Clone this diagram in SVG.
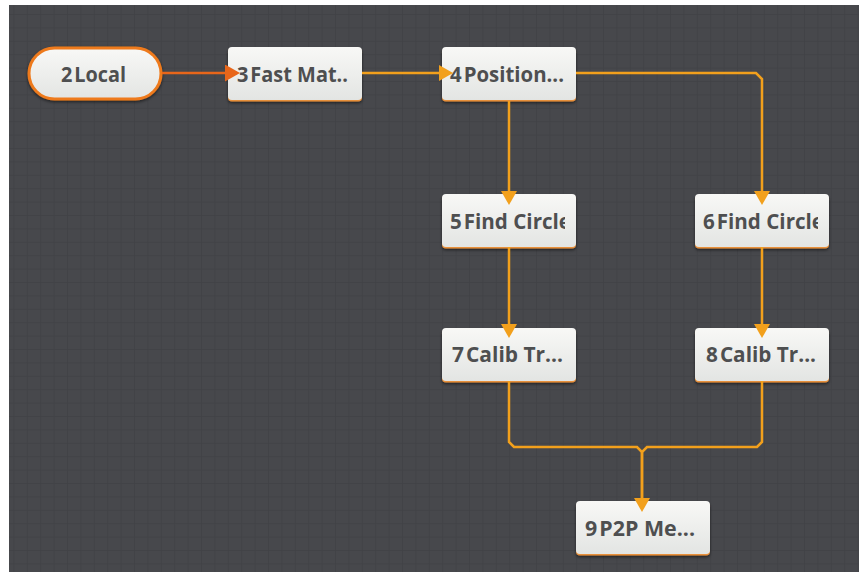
<svg xmlns="http://www.w3.org/2000/svg" width="859" height="572" viewBox="0 0 859 572">
<style>
.lbl{font-family:"Open Sans","Noto Sans","Liberation Sans",sans-serif;font-weight:bold;font-size:20.5px;fill:#4e4f50}
.box{fill:url(#nodeFill)}
.rim{fill:#e8903a}
.wire{fill:none;stroke:#f2a01c;stroke-width:2.5}
.wire2{fill:none;stroke:#e8661a;stroke-width:2.5}
</style>
<defs>
<pattern id="grid" width="13.4" height="13.4" patternUnits="userSpaceOnUse" x="0" y="0.6">
<rect width="13.4" height="13.4" fill="#47484c"/>
<path d="M0,0 H13.4 M0,0 V13.4" stroke="#404145" stroke-width="1.5" fill="none"/>
</pattern>
<linearGradient id="nodeFill" x1="0" y1="0" x2="0" y2="1">
<stop offset="0" stop-color="#f8f8f6"/>
<stop offset="1" stop-color="#e3e5e3"/>
</linearGradient>
<filter id="sh" x="-10%" y="-20%" width="120%" height="150%">
<feDropShadow dx="0" dy="1.5" stdDeviation="1.5" flood-color="#000" flood-opacity="0.55"/>
</filter>
<marker id="arrY" markerUnits="userSpaceOnUse" markerWidth="16" markerHeight="18" refX="11" refY="8" orient="auto" viewBox="0 0 16 18">
<path d="M0,0 L14,8 L0,16 z" fill="#f2a01c"/>
</marker>
<marker id="arrO" markerUnits="userSpaceOnUse" markerWidth="16" markerHeight="18" refX="12" refY="8.5" orient="auto" viewBox="0 0 16 18">
<path d="M0,0 L15,8.5 L0,17 z" fill="#e8661a"/>
</marker>
<clipPath id="c5"><rect x="442" y="194" width="123" height="53"/></clipPath>
<clipPath id="c6"><rect x="695" y="194" width="123" height="53"/></clipPath>
</defs>
<rect x="0" y="0" width="859" height="572" fill="#ffffff"/>
<rect x="9" y="5" width="850" height="567" fill="url(#grid)"/>

<g id="n2">
<rect x="29" y="48" width="132" height="51" rx="25.5" class="box" stroke="#ee7a1c" stroke-width="3" filter="url(#sh)"/>
<text class="lbl" x="61" y="82" textLength="65" lengthAdjust="spacingAndGlyphs">2<tspan dx="2">Local</tspan></text>
</g>
<g id="n3">
<rect x="228" y="48.5" width="134" height="53" rx="4" class="rim" filter="url(#sh)"/>
<rect x="228" y="47" width="134" height="53" rx="4" class="box"/>
<text class="lbl" x="237" y="82" textLength="111" lengthAdjust="spacingAndGlyphs">3<tspan dx="2">Fast Mat..</tspan></text>
</g>
<g id="n4">
<rect x="442" y="48.5" width="134" height="53" rx="4" class="rim" filter="url(#sh)"/>
<rect x="442" y="47" width="134" height="53" rx="4" class="box"/>
<text class="lbl" x="450" y="82" textLength="114" lengthAdjust="spacingAndGlyphs">4<tspan dx="2">Position...</tspan></text>
</g>
<g id="n5">
<rect x="442" y="195.5" width="134" height="53" rx="4" class="rim" filter="url(#sh)"/>
<rect x="442" y="194" width="134" height="53" rx="4" class="box"/>
<text class="lbl" x="450" y="229" textLength="121" lengthAdjust="spacingAndGlyphs" clip-path="url(#c5)">5<tspan dx="2">Find Circle</tspan></text>
</g>
<g id="n6">
<rect x="695" y="195.5" width="134" height="53" rx="4" class="rim" filter="url(#sh)"/>
<rect x="695" y="194" width="134" height="53" rx="4" class="box"/>
<text class="lbl" x="703" y="229" textLength="121" lengthAdjust="spacingAndGlyphs" clip-path="url(#c6)">6<tspan dx="2">Find Circle</tspan></text>
</g>
<g id="n7">
<rect x="442" y="329.5" width="134" height="53" rx="4" class="rim" filter="url(#sh)"/>
<rect x="442" y="328" width="134" height="53" rx="4" class="box"/>
<text class="lbl" x="452" y="362" textLength="111" lengthAdjust="spacingAndGlyphs">7<tspan dx="2">Calib Tr...</tspan></text>
</g>
<g id="n8">
<rect x="695" y="329.5" width="134" height="53" rx="4" class="rim" filter="url(#sh)"/>
<rect x="695" y="328" width="134" height="53" rx="4" class="box"/>
<text class="lbl" x="706" y="362" textLength="110" lengthAdjust="spacingAndGlyphs">8<tspan dx="2">Calib Tr...</tspan></text>
</g>
<g id="n9">
<rect x="576" y="502.5" width="134" height="53" rx="4" class="rim" filter="url(#sh)"/>
<rect x="576" y="501" width="134" height="53" rx="4" class="box"/>
<text class="lbl" x="585" y="536" textLength="110" lengthAdjust="spacingAndGlyphs">9<tspan dx="2">P2P Me...</tspan></text>
</g>

<g id="connectors">
<path class="wire2" d="M162,73 H237" marker-end="url(#arrO)"/>
<path class="wire" d="M362,73 H450" marker-end="url(#arrY)"/>
<path class="wire" d="M509,101 V202" marker-end="url(#arrY)"/>
<path class="wire" d="M576,73 H756 L762,79 V202" marker-end="url(#arrY)"/>
<path class="wire" d="M509,247 V335" marker-end="url(#arrY)"/>
<path class="wire" d="M762,247 V335" marker-end="url(#arrY)"/>
<path class="wire" d="M509,381 V442 L514,447 H637 L642,452 V509" marker-end="url(#arrY)"/>
<path class="wire" d="M762,381 V442 L757,447 H647 L642,452 V499"/>
</g>
</svg>
